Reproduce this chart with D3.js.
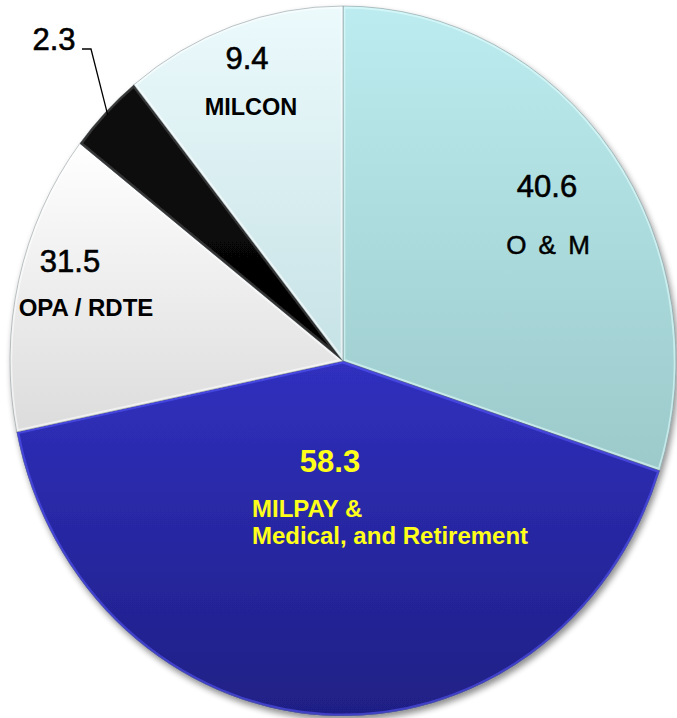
<!DOCTYPE html>
<html>
<head>
<meta charset="utf-8">
<script src="https://cdn.jsdelivr.net/npm/d3@7"></script>
<style>
  body { margin: 0; background: #fff; }
  svg text { font-family: "Liberation Sans", Arial, sans-serif; }
</style>
</head>
<body>
<div id="chart"></div>
<script>
var svgWidth = 677;
var svgHeight = 718;

// slices, clockwise from 12 o'clock
var categories = ['O & M', 'MILPAY & Medical, and Retirement', 'OPA / RDTE', 'Other', 'MILCON'];
var valueLabels = ['40.6', '58.3', '31.5', '2.3', '9.4'];
// slice sizes as drawn (percent of the circle)
var shares = [30.0, 41.8, 13.7, 3.7, 10.8];

var cx = 343, cy = 361;
var rx = 333, ry = 355;

var svg = d3.select('#chart').append('svg')
    .attr('width', svgWidth)
    .attr('height', svgHeight);

var defs = svg.append('defs');

var shadow = defs.append('filter').attr('id', 'shadow')
    .attr('x', '-10%').attr('y', '-10%').attr('width', '120%').attr('height', '120%');
shadow.append('feGaussianBlur').attr('in', 'SourceAlpha').attr('stdDeviation', 3);
shadow.append('feOffset').attr('dx', 2).attr('dy', 4).attr('result', 'blur');
shadow.append('feComponentTransfer').append('feFuncA').attr('type', 'linear').attr('slope', 0.45);
var merge = shadow.append('feMerge');
merge.append('feMergeNode');
merge.append('feMergeNode').attr('in', 'SourceGraphic');

var gradStops = [
    ['#bcecef', '#9ccacb'],
    ['#3030bf', '#1f1f85'],
    ['#ffffff', '#dcdcdc'],
    ['#101010', '#000000'],
    ['#ecfafc', '#c6e2e5']
];
var edgeColors = ['#e6ffff', '#5a5aff', '#ffffff', '#555555', '#ffffff'];

gradStops.forEach(function(s, i) {
    var g = defs.append('linearGradient')
        .attr('id', 'grad' + i)
        .attr('x1', 0).attr('y1', 0).attr('x2', 0).attr('y2', 1);
    g.append('stop').attr('offset', '0%').attr('stop-color', s[0]);
    g.append('stop').attr('offset', '100%').attr('stop-color', s[1]);
});

var pie = d3.pie().sort(null).value(d => d);
var arcs = pie(shares);

var arc = d3.arc().innerRadius(0).outerRadius(ry);

arcs.forEach(function(d, i) {
    defs.append('clipPath').attr('id', 'clip' + i)
        .append('path').attr('d', arc(d));
});

var pieG = svg.append('g')
    .attr('filter', 'url(#shadow)')
    .append('g')
    .attr('transform', `translate(${cx}, ${cy}) scale(${rx / ry}, 1)`);

var slice = pieG.selectAll('.slice')
    .data(arcs)
    .enter()
    .append('g')
    .attr('class', 'slice');

slice.append('path')
    .attr('d', arc)
    .attr('fill', (d, i) => `url(#grad${i})`);

// soft bevel along each slice's edges
slice.append('path')
    .attr('d', arc)
    .attr('fill', 'none')
    .attr('stroke', (d, i) => edgeColors[i])
    .attr('stroke-width', 5)
    .attr('stroke-opacity', 0.55)
    .attr('clip-path', (d, i) => `url(#clip${i})`);

slice.append('path')
    .attr('d', arc)
    .attr('fill', 'none')
    .attr('stroke', '#5a6b70')
    .attr('stroke-opacity', 0.4)
    .attr('stroke-width', 1);

// labels
var labelLayout = [
    {value: [547, 197, 'middle'], lines: [[548, 254, 'middle']], size: 31, lineSize: 26, bold: false, lineBold: false, color: '#000'},
    {value: [330, 472, 'middle'], lines: [[252, 517, 'start'], [252, 544, 'start']], size: 31, lineSize: 24, bold: true, lineBold: true, color: '#ffff1a'},
    {value: [70, 272, 'middle'], lines: [[86, 316, 'middle']], size: 31, lineSize: 24, bold: false, lineBold: true, color: '#000'},
    {value: [54, 50, 'middle'], lines: [], size: 31, bold: false, color: '#000'},
    {value: [247, 69, 'middle'], lines: [[251, 115, 'middle']], size: 31, lineSize: 23.5, bold: false, lineBold: true, color: '#000'}
];
var nameLines = [['O & M'], ['MILPAY &', 'Medical, and Retirement'], ['OPA / RDTE'], [], ['MILCON']];

var labels = svg.append('g');

labelLayout.forEach(function(l, i) {
    labels.append('text')
        .attr('x', l.value[0])
        .attr('y', l.value[1])
        .attr('text-anchor', l.value[2])
        .attr('font-size', l.size)
        .attr('font-weight', l.bold ? 'bold' : 'normal')
        .attr('fill', l.color)
        .attr('stroke', l.bold ? 'none' : l.color)
        .attr('stroke-width', 0.6)
        .text(valueLabels[i]);
    l.lines.forEach(function(p, j) {
        labels.append('text')
            .attr('x', p[0])
            .attr('y', p[1])
            .attr('text-anchor', p[2])
            .attr('font-size', l.lineSize)
            .attr('font-weight', l.lineBold ? 'bold' : 'normal')
            .attr('word-spacing', i === 0 ? 5 : 0)
            .attr('fill', l.color)
            .attr('stroke', l.lineBold ? 'none' : l.color)
            .attr('stroke-width', 0.5)
            .text(nameLines[i][j]);
    });
});

// leader line for the small slice
var small = arcs[3];
var midA = (small.startAngle + small.endAngle) / 2;
var edgeX = cx + rx * Math.sin(midA) * 0.99;
var edgeY = cy - ry * Math.cos(midA) * 0.99;
labels.append('path')
    .attr('d', `M82,49 L91,49 L${edgeX},${edgeY}`)
    .attr('fill', 'none')
    .attr('stroke', '#000')
    .attr('stroke-width', 1.3);
</script>
</body>
</html>
